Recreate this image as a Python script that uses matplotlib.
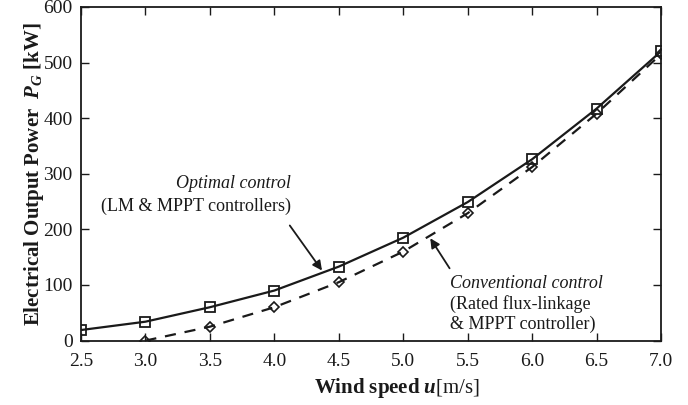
import matplotlib
matplotlib.use("Agg")
import matplotlib.pyplot as plt

wind_speed = [2.5, 3.0, 3.5, 4.0, 4.5, 5.0, 5.5, 6.0, 6.5, 7.0]
optimal_power = [19, 34, 60, 90, 133, 185, 249, 326, 417, 520]
conv_speed = [3.0, 3.5, 4.0, 4.5, 5.0, 5.5, 6.0, 6.5, 7.0]
conv_power = [0, 25, 60, 105, 160, 229, 312, 408, 515]
xticks = [2.5, 3.0, 3.5, 4.0, 4.5, 5.0, 5.5, 6.0, 6.5, 7.0]
yticks = [0, 100, 200, 300, 400, 500, 600]

plt.rcParams['font.family'] = ['Liberation Serif', 'DejaVu Serif']
plt.rcParams['mathtext.fontset'] = 'custom'
plt.rcParams['mathtext.rm'] = 'Liberation Serif'
plt.rcParams['mathtext.it'] = 'Liberation Serif:italic'
plt.rcParams['mathtext.bf'] = 'Liberation Serif:bold'
plt.rcParams['mathtext.bfit'] = 'Liberation Serif:bold:italic'

fig = plt.figure(figsize=(6.88, 4.05), dpi=100)
ax = fig.add_axes([0.1177, 0.159, 0.843, 0.824])

ax.plot(wind_speed, optimal_power, '-', color='#1a1a1a', lw=1.6,
        marker='s', ms=6.8, mfc='none', mec='#1a1a1a', mew=1.3)
ax.plot(conv_speed, conv_power, '--', color='#1a1a1a', lw=1.6, dashes=(5, 4),
        marker='D', ms=5, mfc='none', mec='#1a1a1a', mew=1.2)

ax.set_xlim(2.5, 7.0)
ax.set_ylim(0, 600)
ax.set_xticks(xticks)
ax.set_xticklabels([f"{v:.1f}" for v in xticks])
ax.set_yticks(yticks)
ax.tick_params(direction='in', top=True, right=True, labelsize=14, length=6,
               width=1, colors='#1a1a1a')
ax.tick_params(axis='x', pad=9)
ax.tick_params(axis='y', pad=6)
for s in ax.spines.values():
    s.set_linewidth(1.3)
    s.set_color('#1a1a1a')

ax.set_ylabel(r"$\mathbf{Electrical\ Output\ Power}\ \ \mathbfit{P_G}$ $\mathbf{[kW]}$",
              fontsize=15, color='#1a1a1a', labelpad=-2)
fig.text(0.577, 0.012,
         r"$\mathbf{Wind\ speed}\ \mathbfit{u}$[m/s]", fontsize=15,
         ha='center', va='bottom', color='#1a1a1a')

ax.annotate("", xy=(4.37, 126), xytext=(4.12, 207),
            arrowprops=dict(arrowstyle='-|>', color='#1a1a1a', lw=1.3,
                            mutation_scale=14, shrinkA=0, shrinkB=0))
ax.annotate("", xy=(5.21, 184), xytext=(5.36, 130),
            arrowprops=dict(arrowstyle='-|>', color='#1a1a1a', lw=1.3,
                            mutation_scale=14, shrinkA=0, shrinkB=0))

ax.text(4.13, 282, "Optimal control", fontsize=13, style='italic', ha='right',
        va='center', color='#1a1a1a')
ax.text(4.13, 241, "(LM & MPPT controllers)", fontsize=13, ha='right',
        va='center', color='#1a1a1a')
ax.text(5.36, 103, "Conventional control", fontsize=13, style='italic', ha='left',
        va='center', color='#1a1a1a')
ax.text(5.36, 66, "(Rated flux-linkage", fontsize=13, ha='left',
        va='center', color='#1a1a1a')
ax.text(5.36, 30, "& MPPT controller)", fontsize=13, ha='left',
        va='center', color='#1a1a1a')

fig.savefig("out.png", dpi=100)
